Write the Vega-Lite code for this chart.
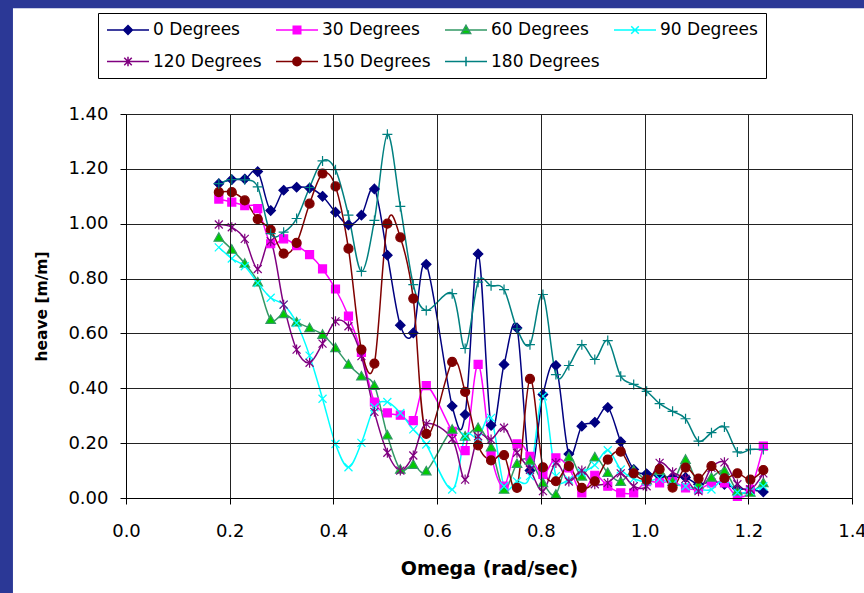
{
  "$schema": "https://vega.github.io/schema/vega-lite/v6.json",
  "width": 726,
  "height": 384,
  "autosize": {"type": "none"},
  "padding": {"left": 126, "top": 114, "right": 12, "bottom": 95},
  "background": "#2b3896",
  "config": {
    "font": "DejaVu Sans",
    "view": {"stroke": null},
    "axis": {
      "labelFont": "DejaVu Sans", "labelFontSize": 18, "labelColor": "#000",
      "titleFont": "DejaVu Sans", "titleFontWeight": "bold", "titleColor": "#000",
      "domainColor": "#000", "domainWidth": 1, "tickColor": "#000", "tickSize": 6, "tickWidth": 1,
      "gridColor": "#222", "gridOpacity": 1, "gridWidth": 1,
      "labelFlush": false, "labelOverlap": false
    }
  },
  "data": {"values": [
    {"s":"0 Degrees","w":0.179,"h":1.146},{"s":"0 Degrees","w":0.204,"h":1.161},{"s":"0 Degrees","w":0.229,"h":1.163},{"s":"0 Degrees","w":0.254,"h":1.19},{"s":"0 Degrees","w":0.279,"h":1.048},{"s":"0 Degrees","w":0.304,"h":1.122},{"s":"0 Degrees","w":0.329,"h":1.133},{"s":"0 Degrees","w":0.354,"h":1.13},{"s":"0 Degrees","w":0.379,"h":1.1},{"s":"0 Degrees","w":0.404,"h":1.042},{"s":"0 Degrees","w":0.429,"h":0.996},{"s":"0 Degrees","w":0.454,"h":1.031},{"s":"0 Degrees","w":0.479,"h":1.127},{"s":"0 Degrees","w":0.504,"h":0.885},{"s":"0 Degrees","w":0.529,"h":0.63},{"s":"0 Degrees","w":0.554,"h":0.602},{"s":"0 Degrees","w":0.579,"h":0.852},{"s":"0 Degrees","w":0.629,"h":0.335},{"s":"0 Degrees","w":0.654,"h":0.304},{"s":"0 Degrees","w":0.679,"h":0.89},{"s":"0 Degrees","w":0.704,"h":0.265},{"s":"0 Degrees","w":0.729,"h":0.487},{"s":"0 Degrees","w":0.754,"h":0.62},{"s":"0 Degrees","w":0.779,"h":0.1},{"s":"0 Degrees","w":0.804,"h":0.377},{"s":"0 Degrees","w":0.829,"h":0.483},{"s":"0 Degrees","w":0.854,"h":0.16},{"s":"0 Degrees","w":0.879,"h":0.262},{"s":"0 Degrees","w":0.904,"h":0.276},{"s":"0 Degrees","w":0.929,"h":0.33},{"s":"0 Degrees","w":0.954,"h":0.205},{"s":"0 Degrees","w":0.979,"h":0.104},{"s":"0 Degrees","w":1.004,"h":0.088},{"s":"0 Degrees","w":1.029,"h":0.08},{"s":"0 Degrees","w":1.054,"h":0.075},{"s":"0 Degrees","w":1.079,"h":0.075},{"s":"0 Degrees","w":1.104,"h":0.05},{"s":"0 Degrees","w":1.129,"h":0.06},{"s":"0 Degrees","w":1.154,"h":0.05},{"s":"0 Degrees","w":1.179,"h":0.035},{"s":"0 Degrees","w":1.204,"h":0.03},{"s":"0 Degrees","w":1.229,"h":0.022},
    {"s":"30 Degrees","w":0.179,"h":1.09},{"s":"30 Degrees","w":0.204,"h":1.079},{"s":"30 Degrees","w":0.229,"h":1.066},{"s":"30 Degrees","w":0.254,"h":1.055},{"s":"30 Degrees","w":0.279,"h":0.927},{"s":"30 Degrees","w":0.304,"h":0.945},{"s":"30 Degrees","w":0.329,"h":0.92},{"s":"30 Degrees","w":0.354,"h":0.887},{"s":"30 Degrees","w":0.379,"h":0.835},{"s":"30 Degrees","w":0.404,"h":0.762},{"s":"30 Degrees","w":0.429,"h":0.663},{"s":"30 Degrees","w":0.454,"h":0.531},{"s":"30 Degrees","w":0.479,"h":0.35},{"s":"30 Degrees","w":0.504,"h":0.31},{"s":"30 Degrees","w":0.529,"h":0.302},{"s":"30 Degrees","w":0.554,"h":0.282},{"s":"30 Degrees","w":0.579,"h":0.41},{"s":"30 Degrees","w":0.629,"h":0.243},{"s":"30 Degrees","w":0.654,"h":0.173},{"s":"30 Degrees","w":0.679,"h":0.487},{"s":"30 Degrees","w":0.704,"h":0.159},{"s":"30 Degrees","w":0.729,"h":0.043},{"s":"30 Degrees","w":0.754,"h":0.197},{"s":"30 Degrees","w":0.779,"h":0.152},{"s":"30 Degrees","w":0.804,"h":0.086},{"s":"30 Degrees","w":0.829,"h":0.146},{"s":"30 Degrees","w":0.854,"h":0.11},{"s":"30 Degrees","w":0.879,"h":0.019},{"s":"30 Degrees","w":0.904,"h":0.083},{"s":"30 Degrees","w":0.929,"h":0.043},{"s":"30 Degrees","w":0.954,"h":0.019},{"s":"30 Degrees","w":0.979,"h":0.019},{"s":"30 Degrees","w":1.004,"h":0.06},{"s":"30 Degrees","w":1.029,"h":0.055},{"s":"30 Degrees","w":1.054,"h":0.06},{"s":"30 Degrees","w":1.079,"h":0.037},{"s":"30 Degrees","w":1.104,"h":0.031},{"s":"30 Degrees","w":1.129,"h":0.055},{"s":"30 Degrees","w":1.154,"h":0.055},{"s":"30 Degrees","w":1.179,"h":0.006},{"s":"30 Degrees","w":1.204,"h":0.031},{"s":"30 Degrees","w":1.229,"h":0.189},
    {"s":"60 Degrees","w":0.179,"h":0.95},{"s":"60 Degrees","w":0.204,"h":0.906},{"s":"60 Degrees","w":0.229,"h":0.855},{"s":"60 Degrees","w":0.254,"h":0.787},{"s":"60 Degrees","w":0.279,"h":0.65},{"s":"60 Degrees","w":0.304,"h":0.671},{"s":"60 Degrees","w":0.329,"h":0.641},{"s":"60 Degrees","w":0.354,"h":0.62},{"s":"60 Degrees","w":0.379,"h":0.596},{"s":"60 Degrees","w":0.404,"h":0.547},{"s":"60 Degrees","w":0.429,"h":0.487},{"s":"60 Degrees","w":0.454,"h":0.444},{"s":"60 Degrees","w":0.479,"h":0.41},{"s":"60 Degrees","w":0.504,"h":0.229},{"s":"60 Degrees","w":0.529,"h":0.104},{"s":"60 Degrees","w":0.554,"h":0.122},{"s":"60 Degrees","w":0.579,"h":0.098},{"s":"60 Degrees","w":0.629,"h":0.25},{"s":"60 Degrees","w":0.654,"h":0.225},{"s":"60 Degrees","w":0.679,"h":0.256},{"s":"60 Degrees","w":0.704,"h":0.185},{"s":"60 Degrees","w":0.729,"h":0.031},{"s":"60 Degrees","w":0.754,"h":0.125},{"s":"60 Degrees","w":0.779,"h":0.137},{"s":"60 Degrees","w":0.804,"h":0.055},{"s":"60 Degrees","w":0.829,"h":0.013},{"s":"60 Degrees","w":0.854,"h":0.149},{"s":"60 Degrees","w":0.879,"h":0.079},{"s":"60 Degrees","w":0.904,"h":0.149},{"s":"60 Degrees","w":0.929,"h":0.092},{"s":"60 Degrees","w":0.954,"h":0.06},{"s":"60 Degrees","w":0.979,"h":0.1},{"s":"60 Degrees","w":1.004,"h":0.065},{"s":"60 Degrees","w":1.029,"h":0.1},{"s":"60 Degrees","w":1.054,"h":0.06},{"s":"60 Degrees","w":1.079,"h":0.14},{"s":"60 Degrees","w":1.104,"h":0.05},{"s":"60 Degrees","w":1.129,"h":0.075},{"s":"60 Degrees","w":1.154,"h":0.1},{"s":"60 Degrees","w":1.179,"h":0.025},{"s":"60 Degrees","w":1.204,"h":0.02},{"s":"60 Degrees","w":1.229,"h":0.055},
    {"s":"90 Degrees","w":0.179,"h":0.914},{"s":"90 Degrees","w":0.204,"h":0.873},{"s":"90 Degrees","w":0.229,"h":0.845},{"s":"90 Degrees","w":0.254,"h":0.784},{"s":"90 Degrees","w":0.279,"h":0.73},{"s":"90 Degrees","w":0.304,"h":0.705},{"s":"90 Degrees","w":0.329,"h":0.638},{"s":"90 Degrees","w":0.354,"h":0.519},{"s":"90 Degrees","w":0.379,"h":0.362},{"s":"90 Degrees","w":0.404,"h":0.197},{"s":"90 Degrees","w":0.429,"h":0.112},{"s":"90 Degrees","w":0.454,"h":0.201},{"s":"90 Degrees","w":0.479,"h":0.331},{"s":"90 Degrees","w":0.504,"h":0.35},{"s":"90 Degrees","w":0.529,"h":0.31},{"s":"90 Degrees","w":0.554,"h":0.25},{"s":"90 Degrees","w":0.579,"h":0.195},{"s":"90 Degrees","w":0.629,"h":0.031},{"s":"90 Degrees","w":0.654,"h":0.225},{"s":"90 Degrees","w":0.679,"h":0.22},{"s":"90 Degrees","w":0.704,"h":0.292},{"s":"90 Degrees","w":0.729,"h":0.043},{"s":"90 Degrees","w":0.754,"h":0.06},{"s":"90 Degrees","w":0.779,"h":0.08},{"s":"90 Degrees","w":0.804,"h":0.371},{"s":"90 Degrees","w":0.829,"h":0.08},{"s":"90 Degrees","w":0.854,"h":0.067},{"s":"90 Degrees","w":0.879,"h":0.092},{"s":"90 Degrees","w":0.904,"h":0.12},{"s":"90 Degrees","w":0.929,"h":0.174},{"s":"90 Degrees","w":0.954,"h":0.104},{"s":"90 Degrees","w":0.979,"h":0.07},{"s":"90 Degrees","w":1.004,"h":0.06},{"s":"90 Degrees","w":1.029,"h":0.07},{"s":"90 Degrees","w":1.054,"h":0.05},{"s":"90 Degrees","w":1.079,"h":0.043},{"s":"90 Degrees","w":1.104,"h":0.031},{"s":"90 Degrees","w":1.129,"h":0.031},{"s":"90 Degrees","w":1.154,"h":0.07},{"s":"90 Degrees","w":1.179,"h":0.02},{"s":"90 Degrees","w":1.204,"h":0.025},{"s":"90 Degrees","w":1.229,"h":0.043},
    {"s":"120 Degrees","w":0.179,"h":0.997},{"s":"120 Degrees","w":0.204,"h":0.987},{"s":"120 Degrees","w":0.229,"h":0.945},{"s":"120 Degrees","w":0.254,"h":0.835},{"s":"120 Degrees","w":0.279,"h":0.936},{"s":"120 Degrees","w":0.304,"h":0.705},{"s":"120 Degrees","w":0.329,"h":0.541},{"s":"120 Degrees","w":0.354,"h":0.493},{"s":"120 Degrees","w":0.379,"h":0.563},{"s":"120 Degrees","w":0.404,"h":0.644},{"s":"120 Degrees","w":0.429,"h":0.626},{"s":"120 Degrees","w":0.454,"h":0.517},{"s":"120 Degrees","w":0.479,"h":0.314},{"s":"120 Degrees","w":0.504,"h":0.165},{"s":"120 Degrees","w":0.529,"h":0.1},{"s":"120 Degrees","w":0.554,"h":0.155},{"s":"120 Degrees","w":0.579,"h":0.27},{"s":"120 Degrees","w":0.629,"h":0.215},{"s":"120 Degrees","w":0.654,"h":0.067},{"s":"120 Degrees","w":0.679,"h":0.225},{"s":"120 Degrees","w":0.704,"h":0.213},{"s":"120 Degrees","w":0.729,"h":0.256},{"s":"120 Degrees","w":0.754,"h":0.165},{"s":"120 Degrees","w":0.779,"h":0.103},{"s":"120 Degrees","w":0.804,"h":0.025},{"s":"120 Degrees","w":0.829,"h":0.128},{"s":"120 Degrees","w":0.854,"h":0.06},{"s":"120 Degrees","w":0.879,"h":0.1},{"s":"120 Degrees","w":0.904,"h":0.05},{"s":"120 Degrees","w":0.929,"h":0.055},{"s":"120 Degrees","w":0.954,"h":0.09},{"s":"120 Degrees","w":0.979,"h":0.043},{"s":"120 Degrees","w":1.004,"h":0.043},{"s":"120 Degrees","w":1.029,"h":0.128},{"s":"120 Degrees","w":1.054,"h":0.094},{"s":"120 Degrees","w":1.079,"h":0.07},{"s":"120 Degrees","w":1.104,"h":0.025},{"s":"120 Degrees","w":1.129,"h":0.11},{"s":"120 Degrees","w":1.154,"h":0.13},{"s":"120 Degrees","w":1.179,"h":0.05},{"s":"120 Degrees","w":1.204,"h":0.031},{"s":"120 Degrees","w":1.229,"h":0.09},
    {"s":"150 Degrees","w":0.179,"h":1.115},{"s":"150 Degrees","w":0.204,"h":1.115},{"s":"150 Degrees","w":0.229,"h":1.085},{"s":"150 Degrees","w":0.254,"h":1.017},{"s":"150 Degrees","w":0.279,"h":0.978},{"s":"150 Degrees","w":0.304,"h":0.891},{"s":"150 Degrees","w":0.329,"h":0.93},{"s":"150 Degrees","w":0.354,"h":1.073},{"s":"150 Degrees","w":0.379,"h":1.183},{"s":"150 Degrees","w":0.404,"h":1.136},{"s":"150 Degrees","w":0.429,"h":0.909},{"s":"150 Degrees","w":0.454,"h":0.541},{"s":"150 Degrees","w":0.479,"h":0.49},{"s":"150 Degrees","w":0.504,"h":1.0},{"s":"150 Degrees","w":0.529,"h":0.95},{"s":"150 Degrees","w":0.554,"h":0.727},{"s":"150 Degrees","w":0.579,"h":0.234},{"s":"150 Degrees","w":0.629,"h":0.496},{"s":"150 Degrees","w":0.654,"h":0.387},{"s":"150 Degrees","w":0.679,"h":0.192},{"s":"150 Degrees","w":0.704,"h":0.137},{"s":"150 Degrees","w":0.729,"h":0.156},{"s":"150 Degrees","w":0.754,"h":0.037},{"s":"150 Degrees","w":0.779,"h":0.434},{"s":"150 Degrees","w":0.804,"h":0.112},{"s":"150 Degrees","w":0.829,"h":0.061},{"s":"150 Degrees","w":0.854,"h":0.116},{"s":"150 Degrees","w":0.879,"h":0.037},{"s":"150 Degrees","w":0.904,"h":0.061},{"s":"150 Degrees","w":0.929,"h":0.14},{"s":"150 Degrees","w":0.954,"h":0.169},{"s":"150 Degrees","w":0.979,"h":0.09},{"s":"150 Degrees","w":1.004,"h":0.067},{"s":"150 Degrees","w":1.029,"h":0.105},{"s":"150 Degrees","w":1.054,"h":0.038},{"s":"150 Degrees","w":1.079,"h":0.111},{"s":"150 Degrees","w":1.104,"h":0.071},{"s":"150 Degrees","w":1.129,"h":0.116},{"s":"150 Degrees","w":1.154,"h":0.072},{"s":"150 Degrees","w":1.179,"h":0.09},{"s":"150 Degrees","w":1.204,"h":0.067},{"s":"150 Degrees","w":1.229,"h":0.102},
    {"s":"180 Degrees","w":0.179,"h":1.146},{"s":"180 Degrees","w":0.204,"h":1.161},{"s":"180 Degrees","w":0.229,"h":1.16},{"s":"180 Degrees","w":0.254,"h":1.134},{"s":"180 Degrees","w":0.279,"h":0.964},{"s":"180 Degrees","w":0.304,"h":0.969},{"s":"180 Degrees","w":0.329,"h":1.019},{"s":"180 Degrees","w":0.354,"h":1.132},{"s":"180 Degrees","w":0.379,"h":1.229},{"s":"180 Degrees","w":0.404,"h":1.197},{"s":"180 Degrees","w":0.429,"h":1.031},{"s":"180 Degrees","w":0.454,"h":0.826},{"s":"180 Degrees","w":0.479,"h":1.012},{"s":"180 Degrees","w":0.504,"h":1.326},{"s":"180 Degrees","w":0.529,"h":1.063},{"s":"180 Degrees","w":0.554,"h":0.778},{"s":"180 Degrees","w":0.579,"h":0.684},{"s":"180 Degrees","w":0.629,"h":0.745},{"s":"180 Degrees","w":0.654,"h":0.545},{"s":"180 Degrees","w":0.679,"h":0.787},{"s":"180 Degrees","w":0.704,"h":0.774},{"s":"180 Degrees","w":0.729,"h":0.76},{"s":"180 Degrees","w":0.754,"h":0.617},{"s":"180 Degrees","w":0.779,"h":0.559},{"s":"180 Degrees","w":0.804,"h":0.742},{"s":"180 Degrees","w":0.829,"h":0.45},{"s":"180 Degrees","w":0.854,"h":0.483},{"s":"180 Degrees","w":0.879,"h":0.559},{"s":"180 Degrees","w":0.904,"h":0.505},{"s":"180 Degrees","w":0.929,"h":0.574},{"s":"180 Degrees","w":0.954,"h":0.444},{"s":"180 Degrees","w":0.979,"h":0.414},{"s":"180 Degrees","w":1.004,"h":0.389},{"s":"180 Degrees","w":1.029,"h":0.344},{"s":"180 Degrees","w":1.054,"h":0.316},{"s":"180 Degrees","w":1.079,"h":0.289},{"s":"180 Degrees","w":1.104,"h":0.207},{"s":"180 Degrees","w":1.129,"h":0.238},{"s":"180 Degrees","w":1.154,"h":0.259},{"s":"180 Degrees","w":1.179,"h":0.168},{"s":"180 Degrees","w":1.204,"h":0.177},{"s":"180 Degrees","w":1.229,"h":0.177}
  ]},
  "layer": [
    {
      "data": {"values": [{}]},
      "mark": {"type": "rect", "fill": "white", "clip": false},
      "encoding": {
        "x": {"datum": -0.218, "type": "quantitative", "scale": {"domain": [0, 1.4], "nice": false, "zero": false},
              "axis": {"title": "Omega (rad/sec)", "values": [0, 0.2, 0.4, 0.6, 0.8, 1.0, 1.2, 1.4], "format": ".1f", "zindex": 1, "grid": true, "labelPadding": 18, "titleFontSize": 19, "titlePadding": 19}},
        "x2": {"datum": 1.45},
        "y": {"datum": -0.4, "type": "quantitative", "scale": {"domain": [0, 1.4], "nice": false, "zero": false},
              "axis": {"title": "heave [m/m]", "values": [0, 0.2, 0.4, 0.6, 0.8, 1.0, 1.2, 1.4], "format": ".2f", "zindex": 1, "grid": true, "labelPadding": 12, "titleFontSize": 15.5, "titlePadding": 18}},
        "y2": {"datum": 1.786}
      }
    },
    {
      "mark": {"type": "line", "interpolate": "cardinal", "strokeWidth": 1.5},
      "encoding": {
        "x": {"field": "w", "type": "quantitative", "scale": {"domain": [0, 1.4], "nice": false, "zero": false},
              "axis": {"title": "Omega (rad/sec)", "values": [0, 0.2, 0.4, 0.6, 0.8, 1.0, 1.2, 1.4], "format": ".1f", "zindex": 1, "grid": true, "labelPadding": 18, "titleFontSize": 19, "titlePadding": 19}},
        "y": {"field": "h", "type": "quantitative", "scale": {"domain": [0, 1.4], "nice": false, "zero": false},
              "axis": {"title": "heave [m/m]", "values": [0, 0.2, 0.4, 0.6, 0.8, 1.0, 1.2, 1.4], "format": ".2f", "zindex": 1, "grid": true, "labelPadding": 12, "titleFontSize": 15.5, "titlePadding": 18}},
        "stroke": {"field": "s", "type": "nominal",
                   "scale": {"domain": ["0 Degrees", "30 Degrees", "60 Degrees", "90 Degrees", "120 Degrees", "150 Degrees", "180 Degrees"],
                             "range": ["#000080", "#FF00FF", "#339966", "#00FFFF", "#800080", "#800000", "#008080"]},
                   "legend": null}
      }
    },
    {
      "mark": {"type": "point", "filled": true, "size": 100, "strokeWidth": 1.2, "opacity": 1},
      "encoding": {
        "x": {"field": "w", "type": "quantitative"},
        "y": {"field": "h", "type": "quantitative"},
        "fill": {"field": "s", "type": "nominal",
                 "scale": {"domain": ["0 Degrees", "30 Degrees", "60 Degrees", "90 Degrees", "120 Degrees", "150 Degrees", "180 Degrees"],
                           "range": ["#000080", "#FF00FF", "#00CC00", "#00FFFF", "#800080", "#800000", "#008080"]},
                 "legend": null},
        "stroke": {"field": "s", "type": "nominal",
                   "scale": {"domain": ["0 Degrees", "30 Degrees", "60 Degrees", "90 Degrees", "120 Degrees", "150 Degrees", "180 Degrees"],
                             "range": ["#000080", "#FF00FF", "#339966", "#00FFFF", "#800080", "#800000", "#008080"]},
                   "legend": null},
        "shape": {"field": "s", "type": "nominal",
                  "scale": {"domain": ["0 Degrees", "30 Degrees", "60 Degrees", "90 Degrees", "120 Degrees", "150 Degrees", "180 Degrees"],
                            "range": [
                              "M0,-0.95L0.95,0L0,0.95L-0.95,0Z",
                              "M-0.8,-0.8H0.8V0.8H-0.8Z",
                              "M0,-0.95L0.95,0.75H-0.95Z",
                              "M-0.8,-0.8L0.8,0.8M-0.8,0.8L0.8,-0.8",
                              "M-0.8,-0.8L0.8,0.8M-0.8,0.8L0.8,-0.8M0,-1V1",
                              "M0.9,0A0.9,0.9,0,1,1,-0.9,0A0.9,0.9,0,1,1,0.9,0Z",
                              "M-1,0H1M0,-1V1"
                            ]},
                  "legend": null}
      }
    },
    {
      "transform": [{"filter": "datum.w < 0.18"}],
      "mark": {"type": "point", "filled": true, "opacity": 0, "strokeWidth": 1.5},
      "encoding": {
        "x": {"field": "w", "type": "quantitative"},
        "y": {"field": "h", "type": "quantitative"},
        "fill": {"field": "s", "type": "nominal",
                 "scale": {"domain": ["0 Degrees", "30 Degrees", "60 Degrees", "90 Degrees", "120 Degrees", "150 Degrees", "180 Degrees"],
                           "range": ["#000080", "#FF00FF", "#00CC00", "#00FFFF", "#800080", "#800000", "#008080"]},
                 "legend": {"title": null, "orient": "none", "legendX": -28, "legendY": -101, "direction": "horizontal", "columns": 4, "symbolSize": 256, "symbolOffset": 13, "symbolStrokeWidth": 1.5, "symbolOpacity": 1, "labelFont": "DejaVu Sans", "labelFontSize": 17, "labelColor": "#000", "labelOffset": 16, "labelLimit": 300, "columnPadding": 11, "rowPadding": 14.5, "padding": 8, "strokeColor": "#000", "fillColor": "white"}},
        "stroke": {"field": "s", "type": "nominal",
                   "scale": {"domain": ["0 Degrees", "30 Degrees", "60 Degrees", "90 Degrees", "120 Degrees", "150 Degrees", "180 Degrees"],
                             "range": ["#000080", "#FF00FF", "#339966", "#00FFFF", "#800080", "#800000", "#008080"]},
                   "legend": {"title": null, "orient": "none", "legendX": -28, "legendY": -101, "direction": "horizontal", "columns": 4, "symbolSize": 256, "symbolOffset": 13, "symbolStrokeWidth": 1.5, "symbolOpacity": 1, "labelFont": "DejaVu Sans", "labelFontSize": 17, "labelColor": "#000", "labelOffset": 16, "labelLimit": 300, "columnPadding": 11, "rowPadding": 14.5, "padding": 8, "strokeColor": "#000", "fillColor": "white"}},
        "shape": {"field": "s", "type": "nominal",
                  "scale": {"domain": ["0 Degrees", "30 Degrees", "60 Degrees", "90 Degrees", "120 Degrees", "150 Degrees", "180 Degrees"],
                            "range": [
                              "M-2.625,0H2.625M0,-0.55L0.55,0L0,0.55L-0.55,0Z",
                              "M-2.625,0H2.625M-0.47,-0.47H0.47V0.47H-0.47Z",
                              "M-2.625,0H2.625M0,-0.58L0.58,0.45H-0.58Z",
                              "M-2.625,0H2.625M-0.47,-0.47L0.47,0.47M-0.47,0.47L0.47,-0.47",
                              "M-2.625,0H2.625M-0.47,-0.47L0.47,0.47M-0.47,0.47L0.47,-0.47M0,-0.58V0.58",
                              "M-2.625,0H2.625M0.52,0A0.52,0.52,0,1,1,-0.52,0A0.52,0.52,0,1,1,0.52,0Z",
                              "M-2.625,0H2.625M0,-0.58V0.58"
                            ]},
                  "legend": {"title": null, "orient": "none", "legendX": -28, "legendY": -101, "direction": "horizontal", "columns": 4, "symbolSize": 256, "symbolOffset": 13, "symbolStrokeWidth": 1.5, "symbolOpacity": 1, "labelFont": "DejaVu Sans", "labelFontSize": 17, "labelColor": "#000", "labelOffset": 16, "labelLimit": 300, "columnPadding": 11, "rowPadding": 14.5, "padding": 8, "strokeColor": "#000", "fillColor": "white"}}
      }
    }
  ],
  "resolve": {"scale": {"fill": "independent", "stroke": "independent", "shape": "independent"}}
}
